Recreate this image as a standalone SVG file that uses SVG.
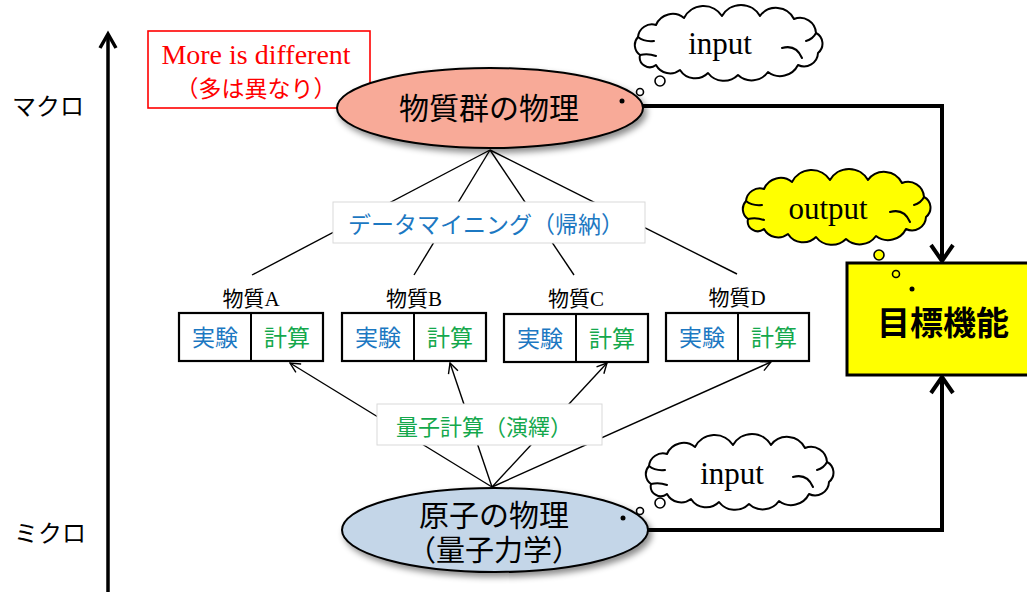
<svg xmlns="http://www.w3.org/2000/svg" xmlns:xlink="http://www.w3.org/1999/xlink" width="1027" height="592" viewBox="0 0 1027 592">
  <style>
    .jp { font-family: "Liberation Serif", "Noto Sans CJK JP", serif; }
    .lat { font-family: "Liberation Serif", serif; }
    .mid { text-anchor: middle; }
    .blue { fill: #1C78C2; }
    .green { fill: #14A84C; }
    .thin { stroke: #000; stroke-width: 1.4; fill: none; }
    .thick { stroke: #000; stroke-width: 4; fill: none; }
    .cell { fill: #fff; stroke: #000; stroke-width: 2.2; }
    .tag { fill: #fff; stroke: #d9d9d9; stroke-width: 1; }
    .cloud-edge { stroke: #000; stroke-width: 2; stroke-linejoin: round; }
    .curl { fill: none; stroke: #000; stroke-width: 2; stroke-linecap: round; }
    .bubble { stroke: #000; stroke-width: 1.6; }
  </style>
  <defs>
    <filter id="shadow" x="-10%" y="-20%" width="130%" height="150%">
      <feDropShadow dx="3" dy="4" stdDeviation="3" flood-color="#000" flood-opacity="0.45"/>
    </filter>
    <marker id="openArrow" viewBox="0 0 12 12" refX="11" refY="6" markerWidth="12" markerHeight="12" markerUnits="userSpaceOnUse" orient="auto">
      <path d="M1 1 L11 6 L1 11" fill="none" stroke="#000" stroke-width="1.4"/>
    </marker>
    <marker id="boldArrow" viewBox="0 0 20 26" refX="18" refY="13" markerWidth="20" markerHeight="26" markerUnits="userSpaceOnUse" orient="auto">
      <path d="M2 2 L18 13 L2 24" fill="none" stroke="#000" stroke-width="4"/>
    </marker>
    <!-- thought-cloud outline, 188 x 64 -->
    <g id="cloudShape">
      <path class="cloud-edge" d="M 6 42 A 12 12 0 0 1 4 24 A 14 14 0 0 1 22 12 A 18 18 0 0 1 50 5 A 22 22 0 0 1 88 3 A 22 22 0 0 1 126 3 A 20 20 0 0 1 160 6 A 16 16 0 0 1 182 20 A 12 12 0 0 1 184 40 A 14 14 0 0 1 164 52 A 20 20 0 0 1 134 59 A 20 20 0 0 1 104 62 A 20 20 0 0 1 74 60 A 18 18 0 0 1 46 57 A 16 16 0 0 1 22 52 A 10 10 0 0 1 6 42 Z"/>
      <path class="curl" d="M 4 24 Q 10 29 20 28 M 6 42 Q 14 40 22 43 M 148 35 Q 162 31 168 45 M 182 20 Q 179 26 172 28"/>
    </g>
  </defs>

  <rect width="1027" height="592" fill="#fff"/>

  <!-- vertical scale axis -->
  <g id="axis">
    <line x1="108" y1="34" x2="108" y2="592" stroke="#000" stroke-width="3.5"/>
    <path d="M100 48 L108 34 L116 48" fill="none" stroke="#000" stroke-width="3.5"/>
    <text class="jp mid" x="48" y="115" font-size="24">マクロ</text>
    <text class="jp mid" x="50" y="542" font-size="24">ミクロ</text>
  </g>

  <!-- connectors -->
  <g id="connectors">
    <!-- data mining fan (induction) -->
    <line class="thin" x1="490" y1="150" x2="252" y2="275"/>
    <line class="thin" x1="490" y1="150" x2="414" y2="275"/>
    <line class="thin" x1="490" y1="150" x2="574" y2="275"/>
    <line class="thin" x1="490" y1="150" x2="737" y2="274"/>
    <!-- quantum computation fan (deduction) -->
    <line class="thin" x1="492" y1="487" x2="290" y2="363" marker-end="url(#openArrow)"/>
    <line class="thin" x1="492" y1="487" x2="450" y2="363" marker-end="url(#openArrow)"/>
    <line class="thin" x1="492" y1="487" x2="607" y2="363" marker-end="url(#openArrow)"/>
    <line class="thin" x1="492" y1="487" x2="771" y2="362" marker-end="url(#openArrow)"/>
    <!-- inputs to target function -->
    <polyline class="thick" points="640,106 942,106 942,261" marker-end="url(#boldArrow)"/>
    <polyline class="thick" points="645,530 942,530 942,377" marker-end="url(#boldArrow)"/>
  </g>

  <!-- edge labels -->
  <g id="label-datamining">
    <rect class="tag" x="333" y="202" width="312" height="41"/>
    <text class="jp mid blue" x="486" y="233" font-size="23">データマイニング（帰納）</text>
  </g>
  <g id="label-quantum">
    <rect class="tag" x="377" y="404" width="225" height="41"/>
    <text class="jp mid green" x="484" y="435" font-size="22">量子計算（演繹）</text>
  </g>

  <!-- note -->
  <g id="note-more-is-different">
    <rect x="148" y="31" width="222" height="77" fill="#fff" stroke="#ff0000" stroke-width="1.6"/>
    <text class="lat mid" x="256" y="64" font-size="28" fill="#ff0000">More is different</text>
    <text class="jp mid" x="256" y="97" font-size="23" fill="#ff0000">（多は異なり）</text>
  </g>

  <!-- macro physics -->
  <g id="node-macro">
    <ellipse cx="490" cy="108" rx="153" ry="40" fill="#F8AA98" stroke="#000" stroke-width="2" filter="url(#shadow)"/>
    <text class="jp mid" x="489" y="119" font-size="30">物質群の物理</text>
    <circle cx="622" cy="101" r="2.5" fill="#000"/>
  </g>

  <!-- micro physics -->
  <g id="node-micro">
    <ellipse cx="495" cy="530" rx="153" ry="42" fill="#C4D6E8" stroke="#000" stroke-width="2" filter="url(#shadow)"/>
    <text class="jp mid" x="494" y="526" font-size="30">原子の物理</text>
    <text class="jp mid" x="494" y="561" font-size="29">（量子力学）</text>
    <circle cx="623" cy="518" r="2.5" fill="#000"/>
  </g>

  <!-- materials -->
  <g id="node-material-a">
    <text class="jp mid" x="251" y="306" font-size="21">物質A</text>
    <rect class="cell" x="179" y="313" width="144" height="48"/>
    <line x1="251" y1="313" x2="251" y2="361" stroke="#000" stroke-width="2"/>
    <text class="jp mid blue" x="215" y="346" font-size="23">実験</text>
    <text class="jp mid green" x="287" y="346" font-size="23">計算</text>
  </g>
  <g id="node-material-b">
    <text class="jp mid" x="414" y="306" font-size="21">物質B</text>
    <rect class="cell" x="342" y="313" width="144" height="48"/>
    <line x1="414" y1="313" x2="414" y2="361" stroke="#000" stroke-width="2"/>
    <text class="jp mid blue" x="378" y="346" font-size="23">実験</text>
    <text class="jp mid green" x="450" y="346" font-size="23">計算</text>
  </g>
  <g id="node-material-c">
    <text class="jp mid" x="576" y="306" font-size="21">物質C</text>
    <rect class="cell" x="504" y="314" width="144" height="48"/>
    <line x1="576" y1="314" x2="576" y2="362" stroke="#000" stroke-width="2"/>
    <text class="jp mid blue" x="540" y="347" font-size="23">実験</text>
    <text class="jp mid green" x="612" y="347" font-size="23">計算</text>
  </g>
  <g id="node-material-d">
    <text class="jp mid" x="737" y="305" font-size="21">物質D</text>
    <rect class="cell" x="666" y="313" width="143" height="48"/>
    <line x1="738" y1="313" x2="738" y2="361" stroke="#000" stroke-width="2"/>
    <text class="jp mid blue" x="702" y="346" font-size="23">実験</text>
    <text class="jp mid green" x="774" y="346" font-size="23">計算</text>
  </g>

  <!-- target function -->
  <g id="node-target">
    <rect x="847" y="263" width="190" height="112" fill="#FFFF00" stroke="#000" stroke-width="3"/>
    <text x="943" y="335" font-size="33" font-weight="bold" text-anchor="middle" font-family="'Noto Sans CJK JP', sans-serif">目標機能</text>
  </g>

  <!-- thought clouds -->
  <g id="cloud-input-top">
    <use xlink:href="#cloudShape" href="#cloudShape" transform="translate(634,13)" fill="#fff"/>
    <text class="lat mid" x="720" y="54" font-size="31">input</text>
    <circle class="bubble" cx="660" cy="81" r="5" fill="#fff"/>
    <circle class="bubble" cx="640" cy="92" r="3.5" fill="#fff"/>
  </g>
  <g id="cloud-output">
    <use xlink:href="#cloudShape" href="#cloudShape" transform="translate(742,177)" fill="#FFFF00"/>
    <text class="lat mid" x="828" y="219" font-size="31">output</text>
    <circle class="bubble" cx="879" cy="255" r="5" fill="#FFFF00"/>
    <circle class="bubble" cx="896" cy="274" r="3.5" fill="#FFFF00"/>
    <circle cx="912" cy="289" r="2.5" fill="#000"/>
  </g>
  <g id="cloud-input-bottom">
    <use xlink:href="#cloudShape" href="#cloudShape" transform="translate(645,442)" fill="#fff"/>
    <text class="lat mid" x="732" y="484" font-size="31">input</text>
    <circle class="bubble" cx="660" cy="503" r="5" fill="#fff"/>
    <circle class="bubble" cx="640" cy="511" r="3.5" fill="#fff"/>
  </g>
</svg>
